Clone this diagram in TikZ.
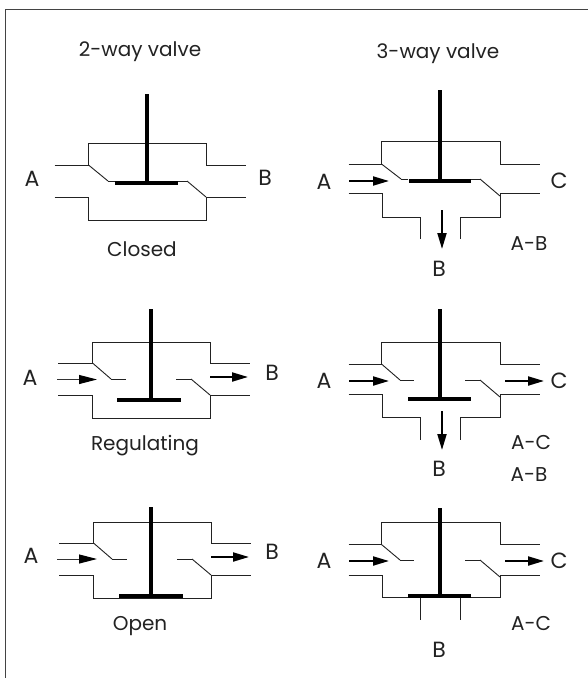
\documentclass[tikz,border=0pt]{standalone}
\usepackage{fontspec}
\setmainfont{Poppins}
\usetikzlibrary{arrows.meta}
\definecolor{ink}{HTML}{222222}
\tikzset{
  wall/.style={draw=ink,line width=0.9pt,line join=miter},
  frameline/.style={draw=ink!85,line width=1.2pt},
  stem/.style={draw=black,line width=4pt},
  flowthin/.style={draw=black!80,line width=1pt,-{Triangle[length=18pt,width=9pt,color=black]}},
  flowthick/.style={draw=black,line width=2pt,-{Triangle[length=16pt,width=9pt]}},
  lab/.style={inner sep=0pt,text=ink,font=\fontsize{20}{24}\selectfont,anchor=center},
  letter/.style={lab,font=\fontsize{22}{26}\selectfont}
}
\begin{document}
\begin{tikzpicture}[x=1pt,y=-1pt]
\useasboundingbox (0,0) rectangle (588,678);
\fill[white] (0,0) rectangle (588,678);
\draw[frameline] (5.5,678) -- (5.5,9.5) -- (588,9.5);
% 2-way closed
\draw[wall] (54.5,165) -- (88.5,165) -- (88.5,143) -- (206,143) -- (206,165) -- (246,165);
\draw[wall] (88.5,165) -- (108,181);
\draw[wall] (108,181) -- (115,181);
\draw[wall] (178,181) -- (187,181);
\draw[wall] (187,181) -- (206,197);
\draw[wall] (206,197) -- (246,197);
\draw[wall] (54.5,197) -- (88.5,197) -- (88.5,220) -- (206,220) -- (206,197);
\draw[stem] (146.5,94) -- (146.5,183);
\draw[stem] (115,183) -- (178,183);
\node[lab] (t1) at (140,52) {2-way valve};
\node[letter] (a1) at (32,179) {A};
\node[letter] (b1) at (265,178) {B};
\node[lab] (s1) at (142,249) {Closed};
% 2-way regulating
\draw[wall] (58,363) -- (92.5,363) -- (92.5,342) -- (210,342) -- (210,363) -- (250,363);
\draw[wall] (92.5,363) -- (111,379);
\draw[wall] (111,379) -- (126,379);
\draw[wall] (176,379) -- (191,379);
\draw[wall] (191,379) -- (210,395);
\draw[wall] (210,395) -- (250,395);
\draw[wall] (58,395) -- (92.5,395) -- (92.5,418) -- (210,418) -- (210,395);
\draw[stem] (150.5,309) -- (150.5,399.5);
\draw[stem] (117,399.5) -- (181,399.5);
\draw[flowthin] (57,379.5) -- (97,379.5);
\draw[flowthick] (210,377) -- (248,377);
\node[letter] (a2) at (30,378) {A};
\node[letter] (b2) at (272,373) {B};
\node[lab] (s2) at (145,446) {Regulating};
% 2-way open
\draw[wall] (59,543) -- (93.5,543) -- (93.5,522) -- (211,522) -- (211,543) -- (251,543);
\draw[wall] (93.5,543) -- (112,559);
\draw[wall] (112,559) -- (127,559);
\draw[wall] (177,559) -- (192,559);
\draw[wall] (192,559) -- (211,575);
\draw[wall] (211,575) -- (251,575);
\draw[wall] (59,575) -- (93.5,575) -- (93.5,598) -- (211,598) -- (211,575);
\draw[stem] (151,507) -- (151,596);
\draw[stem] (119,596) -- (183,596);
\draw[flowthin] (57,559) -- (97,559);
\draw[flowthick] (211,557) -- (249,557);
\node[letter] (a3) at (31,556) {A};
\node[letter] (b3) at (272,552) {B};
\node[lab] (s3) at (140,626) {Open};
% 3-way A-B
\draw[wall] (348.5,164) -- (381.5,164) -- (381.5,141) -- (500,141) -- (500,164) -- (540,164);
\draw[wall] (381.5,164) -- (401,179);
\draw[wall] (401,179) -- (408,179);
\draw[wall] (471,179) -- (480,179);
\draw[wall] (480,179) -- (500,196);
\draw[wall] (500,193) -- (540,193);
\draw[wall] (348.5,193) -- (382,193) -- (382,217) -- (420.5,217) -- (420.5,239);
\draw[wall] (500,193) -- (500,217) -- (460.5,217) -- (460.5,239);
\draw[stem] (439.5,90) -- (439.5,181);
\draw[stem] (408.5,181) -- (471,181);
\draw[flowthick] (349,181) -- (389,181);
\draw[flowthick] (442,210) -- (442,249);
\node[lab] (t2) at (438,54) {3-way valve};
\node[letter] (a4) at (324,182) {A};
\node[letter] (c4) at (559,181) {C};
\node[lab] (m4) at (529,244) {A-B};
\node[letter] (b4) at (439,269) {B};
% 3-way A-C / A-B
\draw[wall] (348.5,364) -- (381.5,364) -- (381.5,342) -- (500,342) -- (500,364) -- (540,364);
\draw[wall] (381.5,364) -- (400,380);
\draw[wall] (400,380) -- (414,380);
\draw[wall] (465,380) -- (480,380);
\draw[wall] (480,380) -- (500,397);
\draw[wall] (500,394.5) -- (540,394.5);
\draw[wall] (348.5,394.5) -- (382,394.5) -- (382,417) -- (420.5,417) -- (420.5,439.5);
\draw[wall] (500,394.5) -- (500,417) -- (460.5,417) -- (460.5,439.5);
\draw[stem] (439.5,309) -- (439.5,398.5);
\draw[stem] (408,398.5) -- (471,398.5);
\draw[flowthick] (349,381) -- (389,381);
\draw[flowthick] (505,381) -- (544,381);
\draw[flowthick] (442,411) -- (442,450);
\node[letter] (a5) at (324,381) {A};
\node[letter] (c5) at (559,381) {C};
\node[lab] (m5) at (531,442) {A-C};
\node[lab] (n5) at (529,475) {A-B};
\node[letter] (b5) at (439,469) {B};
% 3-way A-C
\draw[wall] (348.5,544.5) -- (381.5,544.5) -- (381.5,522) -- (500,522) -- (500,544.5) -- (540,544.5);
\draw[wall] (381.5,544.5) -- (400,560);
\draw[wall] (400,560) -- (414,560);
\draw[wall] (465,560) -- (480,560);
\draw[wall] (480,560) -- (500,577);
\draw[wall] (500,575) -- (540,575);
\draw[wall] (348.5,575) -- (382,575) -- (382,597) -- (500,597) -- (500,575);
\draw[wall] (420.5,597) -- (420.5,620);
\draw[wall] (460.5,597) -- (460.5,620);
\draw[stem] (439.5,508) -- (439.5,595.5);
\draw[stem] (408,595.5) -- (471,595.5);
\draw[flowthick] (349,561) -- (389,561);
\draw[flowthick] (505,561) -- (544,561);
\node[letter] (a6) at (324,561) {A};
\node[letter] (c6) at (559,561) {C};
\node[lab] (m6) at (531,623) {A-C};
\node[letter] (b6) at (439,650) {B};
\end{tikzpicture}
\end{document}
